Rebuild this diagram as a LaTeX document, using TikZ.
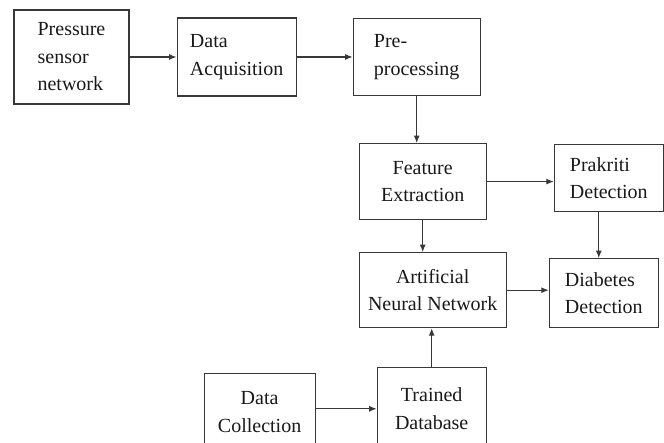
\documentclass[tikz,border=0pt]{standalone}
\usepackage{fontspec}
\setmainfont{Liberation Serif}
\usetikzlibrary{positioning,arrows.meta}

\begin{document}
\begin{tikzpicture}[
        every node/.style={font=\fontsize{20}{27.5}\selectfont, text=black!90},
        block/.style={draw=black!78, line width=1.1pt, inner sep=4pt},
        arrow/.style={-{Latex[length=7.5pt,width=6pt]}, line width=1.1pt, black!78}
    ]
        \useasboundingbox (0,0) rectangle (664pt,-443pt);
        \clip (0,0) rectangle (664pt,-443pt);

        % Top row
        \node[block, align=left, minimum width=115pt, minimum height=94pt] (ps) at (71.5pt,-57pt) {Pressure\\sensor\\network};
        \node[block, align=left, minimum width=119pt, minimum height=78pt, right=47pt of ps] (da) {Data\\Acquisition};
        \node[block, align=left, minimum width=127pt, minimum height=77pt, right=56pt of da] (pp) {Pre-\\processing};

        % Middle rows
        \node[block, align=center, minimum width=127pt, minimum height=76pt, below=47pt of pp, xshift=6pt] (fe) {Feature\\Extraction};
        \node[block, align=left, minimum width=109pt, minimum height=67pt, right=67pt of fe, yshift=3.5pt] (pk) {Prakriti\\Detection};
        \node[block, align=center, minimum width=147pt, minimum height=75pt, below=32pt of fe, xshift=10pt] (ann) {Artificial\\Neural Network};
        \node[block, align=left, minimum width=109pt, minimum height=69pt, right=42pt of ann, yshift=-3pt] (dd) {Diabetes\\Detection};

        % Bottom row (cut by the page edge)
        \node[block, align=center, minimum width=109pt, minimum height=82pt, below=39pt of ann, xshift=-1pt] (td) {Trained\\Database};
        \node[block, align=center, minimum width=111pt, minimum height=76pt, left=61pt of td, yshift=-3pt] (dc) {Data\\Collection};

        % Connectors
        \draw[arrow] (ps) -- (da);
        \draw[arrow] (da) -- (pp);
        \draw[arrow] (pp.south) -- (pp.south |- fe.north);
        \draw[arrow] (fe.east) -- (fe.east -| pk.west);
        \draw[arrow] (fe.south) -- (fe.south |- ann.north);
        \draw[arrow] ([xshift=-10pt]pk.south) -- ([xshift=-10pt]pk.south |- dd.north);
        \draw[arrow] (ann.east) -- (ann.east -| dd.west);
        \draw[arrow] (td.north) -- (td.north |- ann.south);
        \draw[arrow] (dc.east |- td.west) -- (td.west);

    \end{tikzpicture}
\end{document}
